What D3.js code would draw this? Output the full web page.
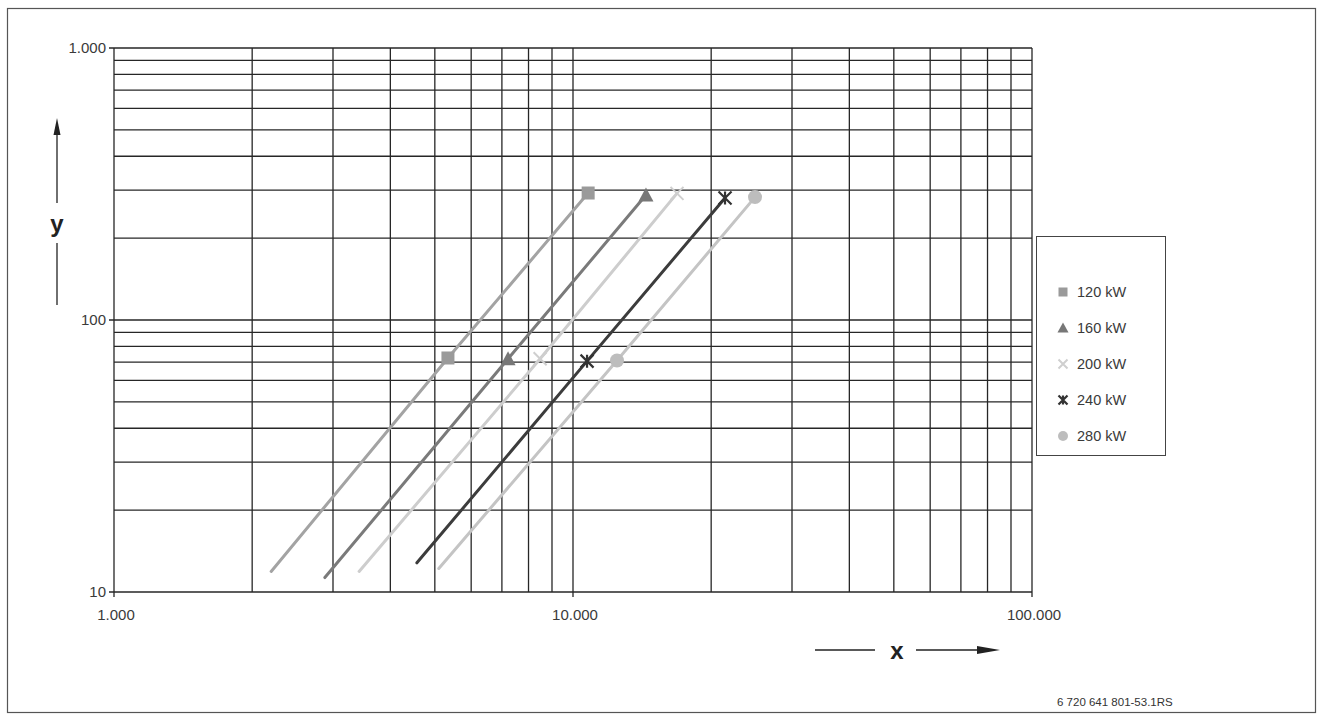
<!DOCTYPE html>
<html>
<head>
<meta charset="utf-8">
<script src="https://cdn.jsdelivr.net/npm/d3@7"></script>
<style>
  body { margin: 0; background: #fff; }
  svg { display: block; font-family: "Liberation Sans", Arial, sans-serif; }
</style>
</head>
<body>
<svg id="chart" width="1323" height="718"></svg>
<script>
// series and readings (x = flow, y = pressure)
const seriesNames = ["120 kW", "160 kW", "200 kW", "240 kW", "280 kW"];
const lineStartX = [2200, 2880, 3420, 4570, 5100];
const lineStartY = [11.9, 11.3, 11.9, 12.8, 12.2];
const lowerX = [5340, 7220, 8480, 10730, 12470];
const lowerY = [72.5, 72, 72, 70.6, 71];
const upperX = [10790, 14420, 16850, 21440, 24920];
const upperY = [293, 288, 292, 281, 283];
const xTicks = [1000, 10000, 100000];
const yTicks = [10, 100, 1000];

const lineColors = ["#a3a3a3", "#7a7a7a", "#cdcdcd", "#3c3c3c", "#c4c4c4"];
const markerColors = ["#9a9a9a", "#777777", "#cfcfcf", "#333333", "#bdbdbd"];
const markerTypes = ["square", "triangle", "cross", "star", "circle"];

const svg = d3.select("#chart");

const de = d3.formatLocale({decimal: ",", thousands: ".", grouping: [3], currency: ["", ""]});
const fmt = de.format(",");

const x = d3.scaleLog().domain([1000, 100000]).range([114, 1032]);
const y = d3.scaleLog().domain([10, 1000]).range([592, 48]);

// outer frame
svg.append("rect").attr("x", 7.5).attr("y", 8.5).attr("width", 1308).attr("height", 704)
  .attr("fill", "none").attr("stroke", "#555").attr("stroke-width", 1.2);

// grid
const grid = svg.append("g").attr("stroke", "#262626").attr("stroke-width", 1.3);
x.ticks().forEach(v => {
  grid.append("line").attr("x1", x(v)).attr("x2", x(v)).attr("y1", y(1000)).attr("y2", y(10) + (xTicks.includes(v) ? 5 : 0));
});
y.ticks().forEach(v => {
  grid.append("line").attr("y1", y(v)).attr("y2", y(v)).attr("x1", x(1000) - (yTicks.includes(v) ? 5 : 0)).attr("x2", x(100000));
});

// tick labels
svg.append("g").selectAll("text").data(xTicks).join("text")
  .attr("x", d => x(d) + 2).attr("y", 620).attr("text-anchor", "middle")
  .attr("font-size", 15).attr("fill", "#3a3a3a").text(d => fmt(d));
svg.append("g").selectAll("text").data(yTicks).join("text")
  .attr("x", 106).attr("y", d => y(d) + 5).attr("text-anchor", "end")
  .attr("font-size", 15).attr("fill", "#3a3a3a").text(d => fmt(d));

// series lines
seriesNames.forEach((s, i) => {
  const pts = [[lineStartX[i], lineStartY[i]], [lowerX[i], lowerY[i]], [upperX[i], upperY[i]]];
  svg.append("path")
    .attr("d", d3.line().x(d => x(d[0])).y(d => y(d[1]))(pts))
    .attr("fill", "none").attr("stroke", lineColors[i]).attr("stroke-width", 3)
    .attr("stroke-linecap", "round");
});

function drawMarker(g, type, cx, cy, color, size) {
  const s = size;
  if (type === "square") {
    g.append("rect").attr("x", cx - s).attr("y", cy - s).attr("width", 2 * s).attr("height", 2 * s).attr("fill", color);
  } else if (type === "triangle") {
    g.append("path").attr("d", `M${cx},${cy - s - 1}L${cx + s + 1},${cy + s}L${cx - s - 1},${cy + s}Z`).attr("fill", color);
  } else if (type === "cross") {
    g.append("path").attr("d", `M${cx - s},${cy - s}L${cx + s},${cy + s}M${cx + s},${cy - s}L${cx - s},${cy + s}`)
      .attr("stroke", color).attr("stroke-width", 2);
  } else if (type === "star") {
    g.append("path").attr("d", `M${cx - s},${cy - s}L${cx + s},${cy + s}M${cx + s},${cy - s}L${cx - s},${cy + s}M${cx},${cy - s}L${cx},${cy + s}`)
      .attr("stroke", color).attr("stroke-width", 2.2);
  } else {
    g.append("circle").attr("cx", cx).attr("cy", cy).attr("r", s + 0.5).attr("fill", color);
  }
}

// markers
const mk = svg.append("g");
seriesNames.forEach((s, i) => {
  drawMarker(mk, markerTypes[i], x(lowerX[i]), y(lowerY[i]), markerColors[i], 6.5);
  drawMarker(mk, markerTypes[i], x(upperX[i]), y(upperY[i]), markerColors[i], 6.5);
});

// legend
const lg = svg.append("g");
lg.append("rect").attr("x", 1036.5).attr("y", 236.5).attr("width", 129).attr("height", 219)
  .attr("fill", "#fff").attr("stroke", "#444").attr("stroke-width", 1);
seriesNames.forEach((s, i) => {
  const ly = 292 + i * 36;
  drawMarker(lg, markerTypes[i], 1063, ly, markerColors[i], 4.5);
  lg.append("text").attr("x", 1077).attr("y", ly + 5).attr("font-size", 14.5).attr("fill", "#3a3a3a").text(s);
});

// axis names with arrows
const ax = svg.append("g").attr("stroke", "#222").attr("stroke-width", 1.3);
ax.append("line").attr("x1", 57).attr("x2", 57).attr("y1", 203).attr("y2", 132);
ax.append("path").attr("d", "M57,118L53.5,135L60.5,135Z").attr("fill", "#222").attr("stroke", "none");
ax.append("line").attr("x1", 57).attr("x2", 57).attr("y1", 243).attr("y2", 305);
svg.append("text").attr("x", 57).attr("y", 232).attr("text-anchor", "middle")
  .attr("font-size", 24).attr("font-weight", "bold").attr("fill", "#222").text("y");

ax.append("line").attr("x1", 815).attr("x2", 875).attr("y1", 650).attr("y2", 650);
ax.append("line").attr("x1", 916).attr("x2", 985).attr("y1", 650).attr("y2", 650);
ax.append("path").attr("d", "M1000,650L977,646L977,654Z").attr("fill", "#222").attr("stroke", "none");
svg.append("text").attr("x", 897).attr("y", 659).attr("text-anchor", "middle")
  .attr("font-size", 24).attr("font-weight", "bold").attr("fill", "#222").text("x");

// drawing number
svg.append("text").attr("x", 1057).attr("y", 706).attr("font-size", 11.5).attr("fill", "#333")
  .text("6 720 641 801-53.1RS");
</script>
</body>
</html>
